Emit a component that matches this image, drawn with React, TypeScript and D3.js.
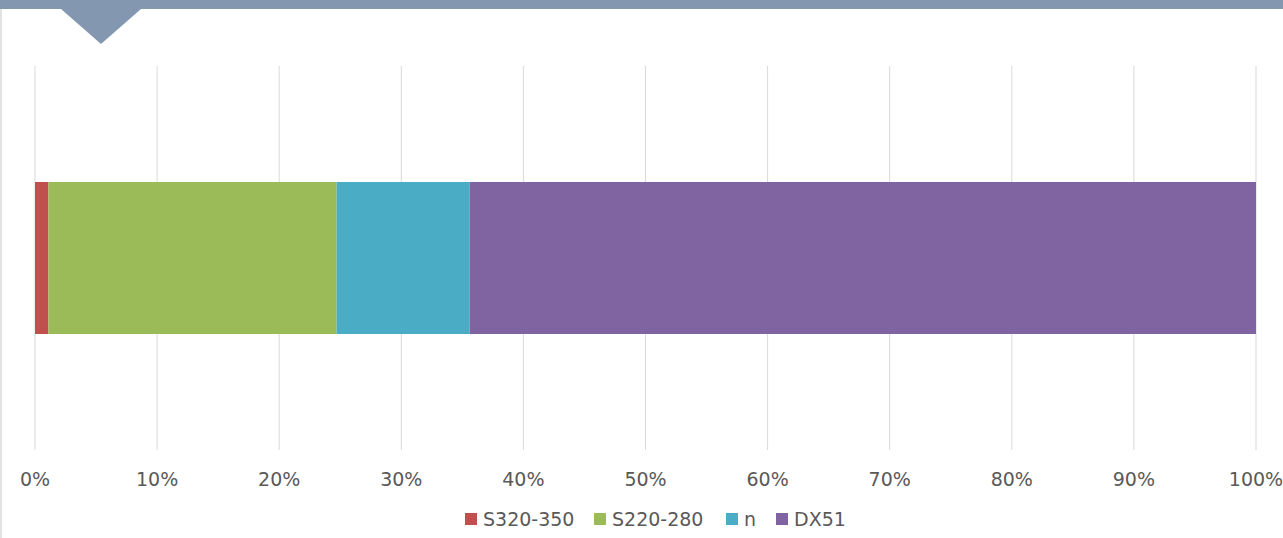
import React from "react";
import * as d3 from "d3";

const categories = ["S320-350", "S220-280", "n", "DX51"];
const values = [1.1, 23.6, 10.9, 64.4];
const colors = ["#c0504d", "#9bbb59", "#4bacc6", "#8064a2"];
const ticks = [0, 10, 20, 30, 40, 50, 60, 70, 80, 90, 100];

export default function App() {
  const W = 1283, H = 538;
  const x = d3.scaleLinear().domain([0, 100]).range([35, 1256]);
  const y = d3.scaleBand().domain(["row"]).range([66, 450]).paddingInner(0).paddingOuter(0.3);
  let acc = 0;
  const segs = values.map((v, i) => {
    const s = { x0: acc, x1: acc + v, c: colors[i], k: categories[i] };
    acc += v;
    return s;
  });
  const bandY = 182, bandH = 152;
  const legendX = [465, 594, 726, 776];
  const font = "'DejaVu Sans', Verdana, sans-serif";
  return (
    <svg width={W} height={H} style={{ position: "absolute", left: 0, top: 0, background: "#fff" }}>
      <rect x={0} y={0} width={W} height={9} fill="#8497b0" />
      <path d="M61,9 L141,9 L101,44 Z" fill="#8497b0" />
      <rect x={0} y={9} width={2} height={H - 9} fill="#e3e3e3" />
      {ticks.map((t) => (
        <line key={"g" + t} x1={x(t)} x2={x(t)} y1={66} y2={450} stroke="#d9d9d9" strokeWidth={1} />
      ))}
      {segs.map((s) => (
        <rect key={s.k} x={x(s.x0)} y={bandY} width={x(s.x1) - x(s.x0)} height={bandH} fill={s.c} />
      ))}
      {ticks.map((t) => (
        <text key={"t" + t} x={x(t)} y={486} textAnchor="middle" fontFamily={font} fontSize={19} fill="#595959">
          {t + "%"}
        </text>
      ))}
      {categories.map((c, i) => (
        <g key={"l" + c}>
          <rect x={legendX[i]} y={513} width={12} height={12} fill={colors[i]} />
          <text x={legendX[i] + 18} y={526} fontFamily={font} fontSize={19} fill="#595959">
            {c}
          </text>
        </g>
      ))}
    </svg>
  );
}
